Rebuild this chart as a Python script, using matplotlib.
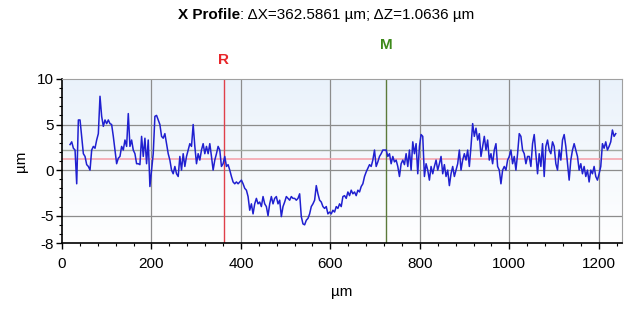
import numpy as np
import matplotlib
matplotlib.use("Agg")
import matplotlib.pyplot as plt
from matplotlib.ticker import MultipleLocator

plt.rcParams['font.family'] = ['Liberation Sans', 'DejaVu Sans']
plt.rcParams['axes.unicode_minus'] = False

height_um = [
    # 18 - 200 um
    2.8, 3.1, 2.4, 2.2, -1.5, 5.5, 5.5, 3.7, 1.8, 1.5, 0.6, 0.4, 0.0, 2.2, 2.6, 2.4, 3.3,
    4.0, 8.1, 5.9, 4.8, 5.5, 5.1, 5.5, 5.1, 5.0, 3.7, 2.2, 0.7, 1.3, 1.5, 2.6, 2.2, 3.3,
    2.6, 6.2, 2.6, 3.3, 2.2, 1.8, 0.7, 0.7, 0.6, 3.7, 1.5, 3.5, 0.7, 3.3, -1.8, 0.0, 1.8,
    # 204 - 409 um
    5.9, 6.0, 5.5, 5.0, 3.7, 3.5, 4.0, 2.9, 1.8, 1.1, 0.0, -0.4, 0.4, -0.4, -0.7, 1.5,
    0.0, 1.8, 0.4, 1.5, 2.2, 2.9, 2.6, 5.0, 2.6, 0.7, 1.8, 1.1, 2.2, 2.9, 1.8, 2.6, 1.8,
    2.9, 1.5, 0.0, 1.1, 1.8, 2.6, 2.2, 0.4, 0.7, 1.5, 0.4, 0.6, 0.0, -0.7, -1.3, -1.5,
    -1.3, -1.5, -1.3, -1.1, -1.5, -2.0, -2.2,
    # 413 - 618 um
    -2.9, -4.4, -3.7, -4.8, -3.7, -3.1, -3.7, -3.5, -4.0, -2.9, -3.7, -4.0, -5.0, -3.7,
    -2.9, -3.7, -3.1, -2.9, -3.7, -3.3, -5.1, -4.0, -3.5, -2.9, -3.1, -3.3, -2.9, -3.1,
    -3.1, -3.3, -3.1, -2.6, -5.1, -5.9, -6.0, -5.5, -5.3, -4.8, -4.0, -3.7, -3.3, -1.7,
    -2.6, -3.3, -3.5, -4.0, -4.2, -4.0, -4.8, -4.6, -4.8, -4.4, -4.6, -4.0, -4.2, -3.7,
    # 621 - 830 um
    -4.0, -2.9, -2.8, -3.1, -2.4, -2.8, -2.2, -2.6, -2.4, -2.8, -2.2, -2.4, -1.8, -1.5,
    -0.7, -0.2, 0.2, 0.6, 0.4, 1.1, 2.2, 0.4, 0.9, 1.5, 1.8, 2.2, 2.2, 2.2, 1.5, 1.8,
    0.7, 1.5, 0.9, 1.1, 0.4, -0.7, 0.7, 1.1, 0.6, 1.8, 0.4, 2.2, 0.0, 3.1, 1.8, 2.9,
    -0.4, 2.6, 3.9, 3.7, -0.7, 0.7, 0.0, -1.1, 0.4, -0.4,
    # 834 - 1042 um
    0.4, 1.1, 0.0, 0.7, 1.5, -0.4, 0.6, -0.7, 0.0, -1.7, -0.4, 0.4, -0.7, 0.0, 0.7, 2.2,
    0.0, 1.1, 1.8, 1.1, 2.2, 0.4, 2.6, 5.1, 3.7, 4.6, 3.3, 4.0, 1.5, 2.6, 3.7, 2.2, 3.3,
    1.1, 1.8, 0.7, 2.2, 2.9, 0.4, 0.0, -1.5, 0.0, 0.4, 0.0, 1.1, 1.5, 2.2, 0.7, 1.5,
    0.0, 1.8, 4.0, 3.7, 2.2, 1.8, 0.7, 1.5,
    # 1046 - 1238 um
    1.5, 0.4, 2.9, 3.9, 1.8, -0.4, 1.8, 0.4, 2.9, -0.7, 2.6, 3.3, 2.2, 1.8, 3.1, 2.6,
    0.7, 0.0, 2.2, 1.1, 3.3, 3.9, 2.6, 0.7, -1.1, 1.1, 2.2, 2.9, 2.2, 1.5, 0.0, 0.7,
    -0.4, 0.4, -0.7, 0.0, -1.3, 0.0, -0.4, 0.4, -0.7, -1.1, -0.4, 0.4, 2.9, 2.4, 3.1,
    2.2, 2.6, 3.1, 4.4, 3.7, 4.0,
]
x_start, x_end = 18, 1238
position_um = np.linspace(x_start, x_end, len(height_um))

# cursors
r_x, m_x = 362.0, 724.59
r_z, m_z = 1.2, 2.26

title_bold = 'X Profile'
title_rest = ': \u0394X=362.5861 \u00b5m; \u0394Z=1.0636 \u00b5m'

fig = plt.figure(figsize=(6.25, 3.12), dpi=100)
ax = fig.add_axes([0.0992, 0.221, 0.896, 0.526])

# light blue -> white background
grad = np.linspace(0, 1, 256).reshape(-1, 1)
ax.imshow(grad, extent=[0, 1252, -8, 10], aspect='auto', origin='lower',
          cmap=matplotlib.colors.LinearSegmentedColormap.from_list('bg', ['#ffffff', '#eaf2fb']),
          zorder=0)

for gx in [200, 400, 600, 800, 1000, 1200]:
    ax.axvline(gx, color='#8c8c8c', lw=0.9, zorder=1)
for gy in [5, 0, -5]:
    ax.axhline(gy, color='#8c8c8c', lw=0.9, zorder=1)

ax.axhline(r_z, color='#f4a6ae', lw=1.2, zorder=1)
ax.axhline(m_z, color='#a0a8a0', lw=1.0, zorder=1)
ax.axvline(r_x, color='#e0404a', lw=1.0, zorder=2)
ax.axvline(m_x, color='#5c7a3a', lw=1.0, zorder=2)

ax.plot(position_um, height_um, '-', color='#2020d0', lw=1.1, zorder=3)

ax.set_xlim(0, 1252)
ax.set_ylim(-8, 10)
ax.set_xticks([0, 200, 400, 600, 800, 1000, 1200])
ax.xaxis.set_minor_locator(MultipleLocator(40))
ax.set_yticks([10, 5, 0, -5, -8])
ax.yaxis.set_minor_locator(MultipleLocator(1))
ax.tick_params(which='major', length=4, width=1, labelsize=11)
ax.tick_params(axis='x', which='major', pad=6)
ax.tick_params(axis='y', which='major', pad=2)
ax.tick_params(which='minor', length=2.5, width=0.8)
for side in ['top', 'right']:
    ax.spines[side].set_color('#a0a0a0')
for side in ['left', 'bottom']:
    ax.spines[side].set_linewidth(1.2)

ax.set_xlabel('\u00b5m', fontsize=11, labelpad=10)
ax.set_ylabel('\u00b5m', fontsize=11, labelpad=6)

ax.text(r_x, 11.3, 'R', color='#e8262a', fontsize=11, fontweight='bold',
        ha='center', va='bottom')
ax.text(m_x, 13.0, 'M', color='#3d8a1a', fontsize=11, fontweight='bold',
        ha='center', va='bottom')

t1 = fig.text(0.285, 0.952, title_bold, fontsize=11, fontweight='bold',
              ha='left', va='center')
fig.canvas.draw()
bb = t1.get_window_extent()
fig.text(bb.x1 / fig.bbox.width, 0.952, title_rest, fontsize=11,
         ha='left', va='center')

plt.savefig('out.png', dpi=100)
